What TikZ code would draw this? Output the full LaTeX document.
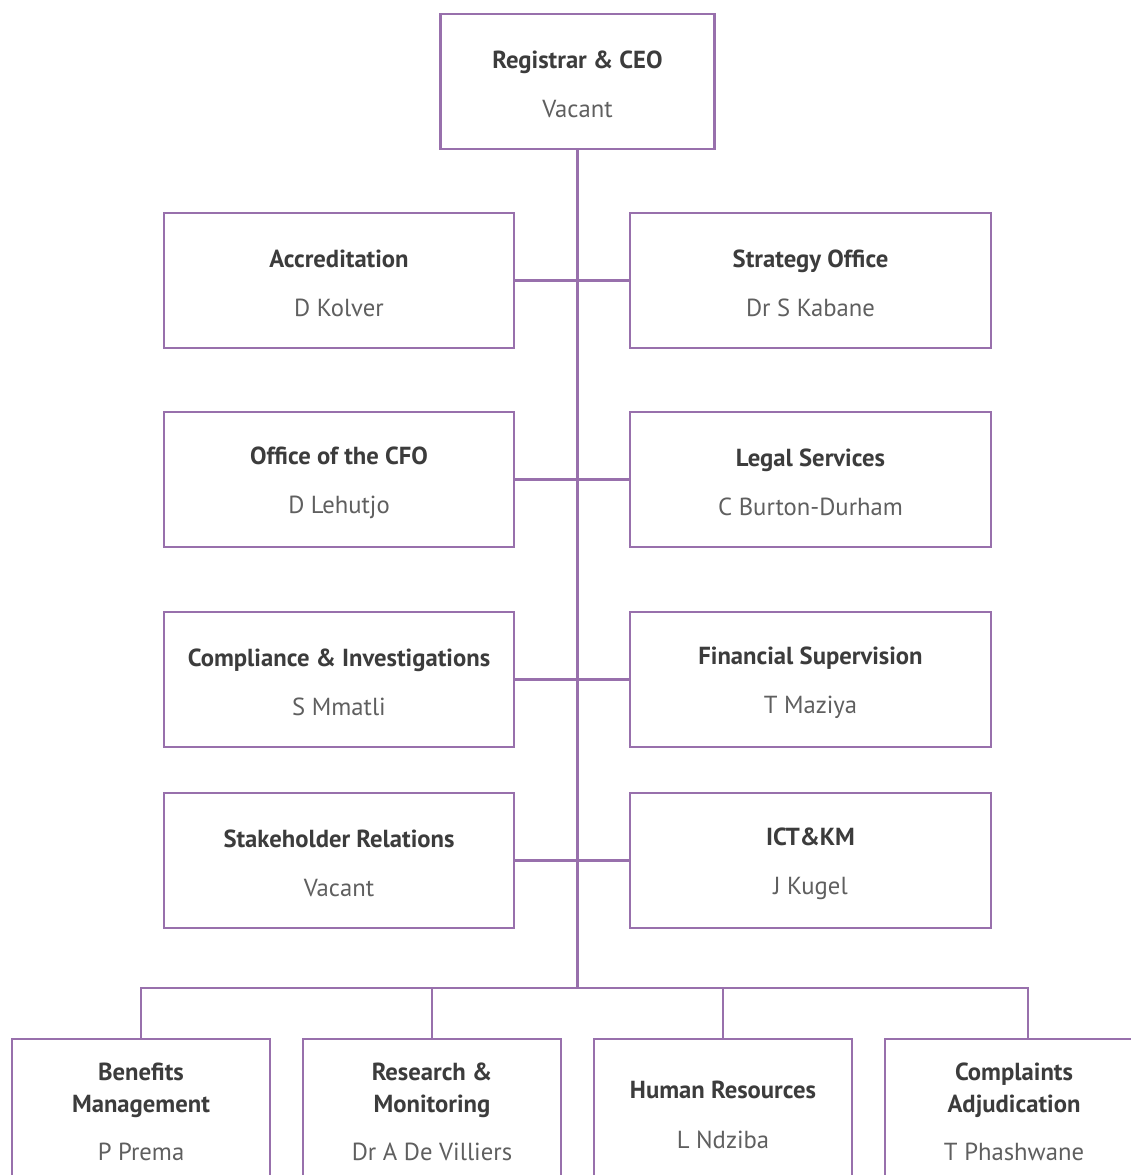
\documentclass[tikz,border=0pt]{standalone}
\usepackage{fontspec}
\setmainfont{PT Sans}
\definecolor{linec}{RGB}{152,112,172}
\definecolor{titlec}{RGB}{60,60,60}
\definecolor{namec}{RGB}{95,95,95}
\newcommand{\orgbox}[2]{\raisebox{0pt}[\dimexpr\height+4.5pt\relax]{\color{titlec}\bfseries #1}\\[15pt]{\color{namec}#2}}
\tikzset{
  unitbox/.style={draw=linec, line width=2.2pt, fill=white, align=center, inner sep=0pt, font=\fontsize{18.5}{22}\selectfont},
  midbox/.style={unitbox, minimum width=262.5pt, minimum height=101.25pt},
  midboxr/.style={unitbox, minimum width=270.75pt, minimum height=101.25pt},
  lowbox/.style={unitbox, minimum width=193.5pt, minimum height=109.5pt},
  link/.style={draw=linec, line width=2.2pt}
}
\begin{document}
\begin{tikzpicture}[x=0.75pt,y=-0.75pt]
\useasboundingbox (0,0) rectangle (1131,1175);
\clip (0,0) rectangle (1131,1175);
% nodes
\node[unitbox, minimum width=205.5pt, minimum height=101.25pt] (ceo) at (577.5,81.5) {\orgbox{Registrar \& CEO}{Vacant}};
\node[midbox] (acc) at (339,280.5) {\orgbox{Accreditation}{D Kolver}};
\node[midboxr] (strat) at (810.5,280.5) {\orgbox{Strategy Office}{Dr S Kabane}};
\node[midbox] (cfo) at (339,479.5) {\orgbox{Office of the CFO}{D Lehutjo}};
\node[midboxr] (legal) at (810.5,479.5) {\orgbox{Legal Services}{C Burton-Durham}};
\node[midbox] (comp) at (339,679.5) {\orgbox{Compliance \& Investigations}{S Mmatli}};
\node[midboxr] (fin) at (810.5,679.5) {\orgbox{Financial Supervision}{T Maziya}};
\node[midbox] (stake) at (339,860.5) {\orgbox{Stakeholder Relations}{Vacant}};
\node[midboxr] (ict) at (810.5,860.5) {\orgbox{ICT\&KM}{J Kugel}};
\node[lowbox] (ben) at (141,1112) {{\color{titlec}\bfseries Benefits}\\[2pt]{\color{titlec}\bfseries Management}\\[14pt]{\color{namec}P Prema}};
\node[lowbox] (res) at (432,1112) {{\color{titlec}\bfseries Research \&}\\[2pt]{\color{titlec}\bfseries Monitoring}\\[14pt]{\color{namec}Dr A De Villiers}};
\node[lowbox] (hr) at (723,1112) {\orgbox{Human Resources}{L Ndziba}};
\node[lowbox] (compl) at (1014,1112) {{\color{titlec}\bfseries Complaints}\\[2pt]{\color{titlec}\bfseries Adjudication}\\[14pt]{\color{namec}T Phashwane}};
% coordinates
\coordinate (bus) at (577.5,988);
\coordinate (d1) at (141,988);
\coordinate (d2) at (432,988);
\coordinate (d3) at (723,988);
\coordinate (d4) at (1028,988);
% connectors
\draw[link] (ceo.south) -- (bus);
\draw[link] (acc.east) -- (strat.west);
\draw[link] (cfo.east) -- (legal.west);
\draw[link] (comp.east) -- (fin.west);
\draw[link] (stake.east) -- (ict.west);
\draw[link, line cap=rect] (d1) -- (d4);
\draw[link] (d1) -- (ben.north);
\draw[link] (d2) -- (res.north);
\draw[link] (d3) -- (hr.north);
\draw[link] (d4) -- (d4 |- compl.north);
\end{tikzpicture}
\end{document}
